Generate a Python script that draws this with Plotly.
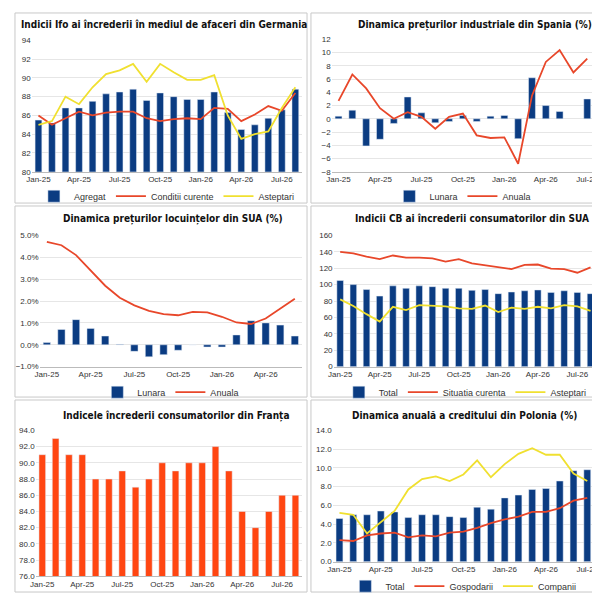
import plotly.graph_objects as go

W, H = 600, 593
months = ["Jan-25","Feb-25","Mar-25","Apr-25","May-25","Jun-25","Jul-25","Aug-25","Sep-25","Oct-25",
          "Nov-25","Dec-25","Jan-26","Feb-26","Mar-26","Apr-26","May-26","Jun-26","Jul-26","Aug-26"]
tick_labels = ["Jan-25","Apr-25","Jul-25","Oct-25","Jan-26","Apr-26","Jul-26"]

de_agregat = [85.5,85.2,86.8,86.8,87.5,88.3,88.5,88.8,87.6,88.4,88.0,87.7,87.7,88.5,86.3,84.5,85.0,85.7,86.6,88.8]
de_conditii = [86.0,85.0,85.7,86.4,86.0,86.3,86.4,86.4,85.7,85.4,85.6,85.7,85.6,86.8,86.7,85.4,86.1,87.0,86.5,88.4]
de_asteptari = [85.0,85.4,88.0,87.2,89.0,90.4,90.8,91.5,89.6,91.5,90.6,89.8,89.8,90.3,86.0,83.5,84.0,84.3,86.8,89.0]

es_lunara = [0.4,1.3,-4.1,-3.1,-0.7,3.3,0.9,-0.6,-0.4,0.5,-0.4,0.4,0.5,-3.0,6.2,2.0,1.1,None,3.0]
es_anuala = [2.7,6.7,4.6,1.6,0.0,1.0,0.3,-1.5,0.3,0.8,-2.5,-2.9,-2.8,-6.8,3.5,8.6,10.4,7.0,9.1]

us_lunara = [0.1,0.7,1.15,0.75,0.4,0.02,-0.3,-0.55,-0.45,-0.25,0.0,-0.1,-0.1,0.45,1.1,1.0,0.9,0.4]
us_anuala = [4.7,4.55,4.1,3.4,2.7,2.15,1.8,1.55,1.4,1.35,1.5,1.48,1.28,1.02,0.95,1.2,1.65,2.1]

cb_total = [105,100,94,86,98.5,95.5,98.5,97.5,95.5,95.5,93,94,89,91,92.5,93.5,90.5,92.5,90.5,89]
cb_situatia = [140,138,134,131,135.5,133,133,132,128,131,126,123.5,121.5,119,124,124.5,119.5,119,114.5,121]
cb_asteptari = [82,74,64,55,73,69,75,74,73.5,71,70.5,74.5,66.5,72,70.5,73,71,75,73.5,68]

fr_index = [91,93,91,91,88,88,89,87,88,90,89,90,90,92,89,84,82,84,86,86]

pl_total = [4.6,5.0,5.0,5.4,5.3,4.7,5.0,5.0,4.8,4.7,5.8,5.6,6.8,7.1,7.7,7.8,8.6,9.7,9.8]
pl_gosp = [2.3,2.2,2.8,3.0,3.1,2.6,2.8,2.7,3.1,3.2,3.6,4.1,4.5,4.8,5.3,5.3,5.7,6.5,6.8]
pl_comp = [5.2,5.0,3.0,4.2,5.4,7.7,8.8,9.1,8.6,9.3,10.8,9.0,10.4,11.5,12.1,11.4,11.4,9.4,8.6]

NAVY = "#0B3C82"; RED = "#E8472A"; YEL = "#F0E030"; ORG = "#FF4612"
TF = "Liberation Sans Narrow, DejaVu Sans Condensed, Roboto, sans-serif"
AF = "Liberation Sans, Arial, sans-serif"

fig = go.Figure()
layout = dict(width=W, height=H, margin=dict(l=0, r=0, t=0, b=0), paper_bgcolor="white",
              plot_bgcolor="white", showlegend=True, shapes=[], annotations=[])

def px(x): return x / W
def py(y): return 1 - y / H

panels = [
    dict(x0=18, x1=293, y0=29, y1=163, box=(1,1,298,195), title="Indicii Ifo ai încrederii în mediul de afaceri din Germania",
         tx=153, ty=13, yr=[80,94], dt=2, fmt="", suf="", n=20, ly=188),
    dict(x0=323, x1=590, y0=28, y1=163, box=(302,1,599,195), title="Dinamica prețurilor industriale din Spania (%)",
         tx=469, ty=13, yr=[-8,12], dt=2, fmt="", suf="", n=19, ly=188),
    dict(x0=26, x1=293, y0=228, y1=362, box=(1,198,298,393), title="Dinamica prețurilor locuințelor din SUA (%)",
         tx=162, ty=211, yr=[-1,5], dt=1, fmt=".1f", suf="%", n=18, ly=388),
    dict(x0=325, x1=593, y0=228, y1=362, box=(302,198,599,393), title="Indicii CB ai încrederii consumatorilor din SUA",
         tx=466, ty=211, yr=[0,160], dt=20, fmt="", suf="", n=20, ly=388),
    dict(x0=22, x1=293, y0=427, y1=576, box=(1,396,298,592), title="Indicele încrederii consumatorilor din Franța",
         tx=165, ty=412, yr=[76,94], dt=2, fmt=".1f", suf="", n=20, ly=None),
    dict(x0=324, x1=590, y0=427, y1=561, box=(302,396,599,592), title="Dinamica anuală a creditului din Polonia (%)",
         tx=458, ty=412, yr=[0,14], dt=2, fmt=".1f", suf="", n=19, ly=586),
]

for i, p in enumerate(panels, start=1):
    s = "" if i == 1 else str(i)
    m = months[:p["n"]]
    tv = [t for t in tick_labels if t in m]
    layout["xaxis" + s] = dict(domain=[px(p["x0"]), px(p["x1"])], anchor="y" + s, type="category",
                               categoryorder="array", categoryarray=m, tickvals=tv, ticktext=tv,
                               tickfont=dict(size=8, color="#333", family=AF), showline=True,
                               linecolor="#bbb", ticks="", showgrid=False, zeroline=False, fixedrange=True)
    layout["yaxis" + s] = dict(domain=[py(p["y1"]), py(p["y0"])], anchor="x" + s, range=p["yr"], dtick=p["dt"],
                               tickformat=p["fmt"], ticksuffix=p["suf"], tickfont=dict(size=8, color="#333", family=AF),
                               gridcolor="#e6e6e6", zeroline=False, showline=False, fixedrange=True)
    b = p["box"]
    layout["shapes"].append(dict(type="rect", xref="paper", yref="paper", x0=px(b[0]), x1=px(b[2]),
                                 y0=py(b[3]), y1=py(b[1]), line=dict(color="#c8c8c8", width=1)))
    layout["annotations"].append(dict(text="<b>" + p["title"] + "</b>", xref="paper", yref="paper",
                                      x=px(p["tx"]), y=py(p["ty"]), xanchor="center", yanchor="middle",
                                      showarrow=False, font=dict(size=10, family=TF, color="#111")))
    if p["ly"] is not None:
        key = "legend" if i == 1 else "legend" + str(i)
        layout[key] = dict(orientation="h", x=px((p["x0"] + p["x1"]) / 2), y=py(p["ly"]), xanchor="center",
                           yanchor="middle", font=dict(size=9, family=AF, color="#333"),
                           bgcolor="rgba(0,0,0,0)", itemwidth=30, tracegroupgap=0)

def add(kind, i, x, y, name, color, width=1.8, bw=0.5):
    s = "" if i == 1 else str(i)
    leg = "legend" if i == 1 else "legend" + str(i)
    if kind == "bar":
        fig.add_trace(go.Bar(x=x, y=y, name=name, marker_color=color, width=bw, xaxis="x" + s, yaxis="y" + s,
                             legend=leg, showlegend=name is not None))
    else:
        fig.add_trace(go.Scatter(x=x, y=y, name=name, mode="lines", line=dict(color=color, width=width),
                                 xaxis="x" + s, yaxis="y" + s, legend=leg))

add("bar", 1, months[:20], de_agregat, "Agregat", NAVY)
add("line", 1, months[:20], de_conditii, "Conditii curente", RED)
add("line", 1, months[:20], de_asteptari, "Asteptari", YEL)

add("bar", 2, months[:19], es_lunara, "Lunara", NAVY)
add("line", 2, months[:19], es_anuala, "Anuala", RED)

add("bar", 3, months[:18], us_lunara, "Lunara", NAVY)
add("line", 3, months[:18], us_anuala, "Anuala", RED)

add("bar", 4, months[:20], cb_total, "Total", NAVY)
add("line", 4, months[:20], cb_situatia, "Situatia curenta", RED)
add("line", 4, months[:20], cb_asteptari, "Asteptari", YEL)

add("bar", 5, months[:20], fr_index, None, ORG)

add("bar", 6, months[:19], pl_total, "Total", NAVY)
add("line", 6, months[:19], pl_gosp, "Gospodarii", RED)
add("line", 6, months[:19], pl_comp, "Companii", YEL)

fig.update_layout(**layout)
fig.write_html("out.html")
